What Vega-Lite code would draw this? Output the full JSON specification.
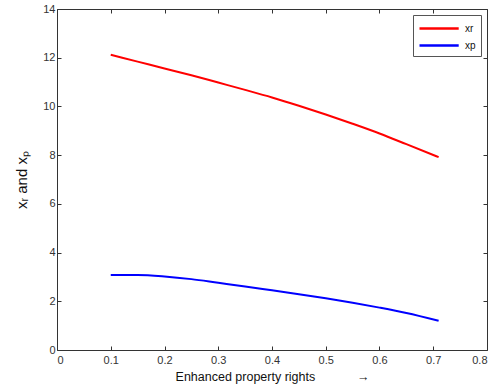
{
  "$schema": "https://vega.github.io/schema/vega-lite/v6.json",
  "width": 430,
  "height": 341,
  "autosize": {"type": "none"},
  "padding": {"left": 57, "top": 9, "right": 10, "bottom": 42},
  "background": "white",
  "config": {
    "view": {"stroke": null},
    "font": "Liberation Sans",
    "axis": {
      "domainColor": "#333333",
      "tickColor": "#333333",
      "labelColor": "#333333",
      "labelFont": "Liberation Sans",
      "labelFontSize": 11,
      "titleFont": "Liberation Sans",
      "titleFontWeight": "normal",
      "titleColor": "#111111",
      "grid": false,
      "tickSize": -4
    }
  },
  "data": {
    "values": [
      {"r": 0.10, "s": "xr", "v": 12.12},
      {"r": 0.15, "s": "xr", "v": 11.84},
      {"r": 0.20, "s": "xr", "v": 11.56},
      {"r": 0.25, "s": "xr", "v": 11.28},
      {"r": 0.30, "s": "xr", "v": 10.98},
      {"r": 0.35, "s": "xr", "v": 10.68},
      {"r": 0.40, "s": "xr", "v": 10.37},
      {"r": 0.45, "s": "xr", "v": 10.03},
      {"r": 0.50, "s": "xr", "v": 9.67},
      {"r": 0.55, "s": "xr", "v": 9.29},
      {"r": 0.60, "s": "xr", "v": 8.89},
      {"r": 0.65, "s": "xr", "v": 8.45},
      {"r": 0.71, "s": "xr", "v": 7.92},
      {"r": 0.10, "s": "xp", "v": 3.08},
      {"r": 0.15, "s": "xp", "v": 3.08},
      {"r": 0.20, "s": "xp", "v": 3.02},
      {"r": 0.25, "s": "xp", "v": 2.91},
      {"r": 0.30, "s": "xp", "v": 2.76},
      {"r": 0.35, "s": "xp", "v": 2.61},
      {"r": 0.40, "s": "xp", "v": 2.45},
      {"r": 0.45, "s": "xp", "v": 2.29},
      {"r": 0.50, "s": "xp", "v": 2.12},
      {"r": 0.55, "s": "xp", "v": 1.94},
      {"r": 0.60, "s": "xp", "v": 1.74},
      {"r": 0.65, "s": "xp", "v": 1.52},
      {"r": 0.71, "s": "xp", "v": 1.20}
    ]
  },
  "layer": [
    {
      "mark": {"type": "line", "strokeWidth": 2, "interpolate": "monotone"},
      "encoding": {
        "x": {
          "field": "r", "type": "quantitative",
          "scale": {"domain": [0, 0.8], "nice": false, "zero": false},
          "axis": {
            "values": [0, 0.1, 0.2, 0.3, 0.4, 0.5, 0.6, 0.7, 0.8],
            "format": ".1~f",
            "labelPadding": 8,
            "title": "Enhanced property rights\u00a0\u00a0\u00a0\u00a0\u00a0\u00a0\u00a0\u00a0\u00a0\u00a0\u00a0 →",
            "titleFontSize": 12.5,
            "titlePadding": 5
          }
        },
        "y": {
          "field": "v", "type": "quantitative",
          "scale": {"domain": [0, 14], "nice": false},
          "axis": {
            "values": [0, 2, 4, 6, 8, 10, 12, 14],
            "labelPadding": 6,
            "title": "xᵣ and xₚ",
            "titleFontSize": 15,
            "titlePadding": 13
          }
        },
        "color": {
          "field": "s", "type": "nominal",
          "scale": {"domain": ["xr", "xp"], "range": ["#ff0000", "#0000ff"]},
          "legend": {
            "title": null,
            "orient": "none",
            "legendX": 356,
            "legendY": 6,
            "symbolType": "M-1,0H4.6",
            "symbolSize": 196,
            "symbolStrokeWidth": 2.5,
            "labelFontSize": 10,
            "labelColor": "#111111",
            "labelOffset": 30,
            "strokeColor": "#555555",
            "fillColor": "white",
            "padding": 5,
            "rowPadding": 3
          }
        }
      }
    },
    {
      "mark": {"type": "rule", "opacity": 0},
      "encoding": {
        "x": {
          "field": "r", "type": "quantitative",
          "scale": {"domain": [0, 0.8], "nice": false, "zero": false},
          "axis": {"orient": "top", "values": [0, 0.1, 0.2, 0.3, 0.4, 0.5, 0.6, 0.7, 0.8], "labels": false, "title": null}
        },
        "y": {
          "field": "v", "type": "quantitative",
          "scale": {"domain": [0, 14], "nice": false},
          "axis": {"orient": "right", "values": [0, 2, 4, 6, 8, 10, 12, 14], "labels": false, "title": null}
        }
      }
    }
  ],
  "resolve": {"scale": {"x": "independent", "y": "independent"}}
}
